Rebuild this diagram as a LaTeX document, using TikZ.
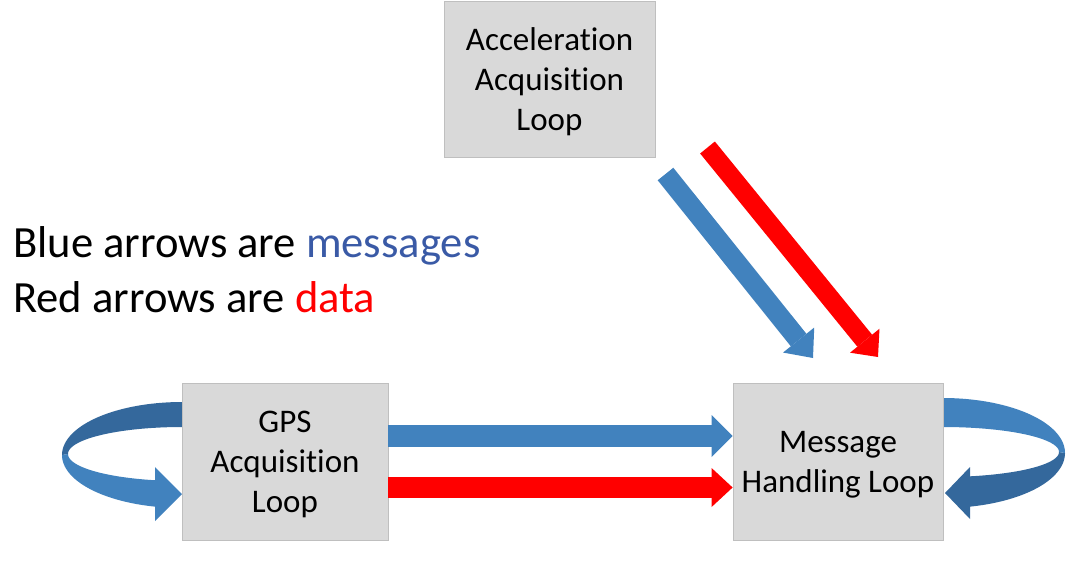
\documentclass[tikz,border=0pt]{standalone}
\usepackage{fontspec}
\setmainfont{Carlito}[Ligatures=NoCommon]
\usetikzlibrary{arrows.meta}
\definecolor{boxfill}{RGB}{217,217,217}
\definecolor{boxline}{RGB}{191,191,191}
\definecolor{arrblue}{RGB}{65,130,190}
\definecolor{arrdark}{RGB}{52,104,156}
\definecolor{arrred}{RGB}{255,0,0}
\definecolor{msgtext}{RGB}{58,90,166}
\newcommand{\toppush}{\rule{0pt}{28pt}}
\tikzset{
  loopbox/.style={draw=boxline, line width=0.8pt, fill=boxfill, inner sep=0pt,
    align=center, font=\fontsize{33}{40}\selectfont},
  legend/.style={anchor=base west, inner sep=0pt, font=\fontsize{44.6}{55}\selectfont},
  bluearrow/.style={draw=arrblue, line width=#1},
  redarrow/.style={draw=arrred, line width=#1},
}
\begin{document}
\begin{tikzpicture}[x=1pt,y=-1pt]
\useasboundingbox (0,0) rectangle (1074,576);

% left self loop (GPS)
\fill[arrdark] plot[domain=270:180,samples=50] ({182+120*cos(\x)},{455+53*sin(\x)})
  -- plot[domain=180:270,samples=50] ({182+114*cos(\x)},{454+27*sin(\x)}) -- cycle;
\fill[arrblue] plot[domain=180:103,samples=50] ({182+120*cos(\x)},{455+53*sin(\x)})
  -- (155,521) -- (182,494) -- (155,467)
  -- plot[domain=103.7:180,samples=50] ({182+114*cos(\x)},{454+27*sin(\x)}) -- cycle;

% right self loop (Message handling)
\fill[arrdark] plot[domain=0:77.2,samples=50] ({943+122*cos(\x)},{453+55*sin(\x)})
  -- (970,519) -- (945,493) -- (970,467)
  -- plot[domain=76.5:0,samples=50] ({943+116*cos(\x)},{452+25*sin(\x)}) -- cycle;
\fill[arrblue] plot[domain=-90:0,samples=50] ({943+122*cos(\x)},{453+55*sin(\x)})
  -- plot[domain=0:-90,samples=50] ({943+116*cos(\x)},{452+25*sin(\x)}) -- cycle;

% boxes
\node[loopbox, minimum width=211pt, minimum height=156pt] (acc) at (549.5,79)
  {\toppush Acceleration\\Acquisition\\Loop};
\node[loopbox, minimum width=206pt, minimum height=157pt] (gps) at (285,461.5)
  {\toppush GPS\\Acquisition\\Loop};
\node[loopbox, minimum width=210pt, minimum height=157pt] (msg) at (838,461.5)
  {\toppush Message\\Handling Loop};

% legend
\node[legend] (leg1) at (13,257) {Blue arrows are \textcolor{msgtext}{messages}};
\node[legend] (leg2) at (13,312) {Red arrows are \textcolor{arrred}{data}};

% horizontal arrows
\coordinate (by) at (0,436);
\coordinate (ry) at (0,487.5);
\draw[bluearrow=22pt, -{Triangle[width=42pt,length=21pt,line width=0pt]}]
  (gps.east |- by) -- (msg.west |- by);
\draw[redarrow=21pt, -{Triangle[width=39pt,length=21pt,line width=0pt]}]
  (gps.east |- ry) -- (msg.west |- ry);

% diagonal arrows
\coordinate (bt) at (665.5,174);
\coordinate (bh) at (813,358);
\coordinate (rt) at (707.5,147.5);
\coordinate (rh) at (878,357);
\draw[bluearrow=20pt, -{Triangle[width=40pt,length=23pt,line width=0pt]}] (bt) -- (bh);
\draw[redarrow=19pt, -{Triangle[width=38pt,length=21pt,line width=0pt]}] (rt) -- (rh);
\end{tikzpicture}
\end{document}
